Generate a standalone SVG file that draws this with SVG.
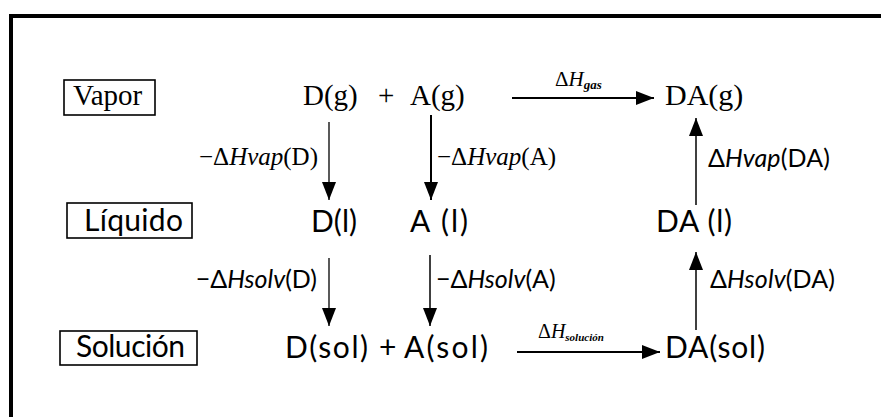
<svg xmlns="http://www.w3.org/2000/svg" width="881" height="417" viewBox="0 0 881 417">
<style>
.serif{font-family:"Liberation Serif","Times New Roman",serif;fill:#000}
.sans{font-family:Lato,"Liberation Sans",sans-serif;fill:#000}
.big{font-size:29px}
.mid{font-size:30px}
.lab{font-size:25px}
.it{font-style:italic}
.box{fill:none;stroke:#000;stroke-width:1.6}
.frame{stroke:#000;stroke-width:4;fill:none}
.arr{stroke:#000;fill:none}
</style>
<defs>
<marker id="ah" markerUnits="userSpaceOnUse" markerWidth="19" markerHeight="14" refX="18" refY="7" orient="auto">
<path d="M0,0 L18,7 L0,14 z" fill="#000"/>
</marker>
</defs>
<rect width="881" height="417" fill="#fff"/>
<g id="frame">
<line class="frame" x1="9" y1="16" x2="881" y2="16"/>
<line class="frame" x1="11" y1="14" x2="11" y2="417"/>
</g>
<g id="vapor">
<rect class="box" x="64" y="80" width="91" height="35"/>
<text class="serif big" x="73" y="105">Vapor</text>
</g>
<g id="liquido">
<rect class="box" x="67" y="203" width="125" height="35"/>
<text class="sans mid" x="84" y="231" textLength="99" lengthAdjust="spacing">Líquido</text>
</g>
<g id="solucion">
<rect class="box" x="60" y="331" width="137" height="34"/>
<text class="sans mid" x="76" y="357" textLength="109" lengthAdjust="spacing">Solución</text>
</g>
<g id="Dg"><text class="serif big" x="303" y="105">D(g)</text></g>
<g id="plus1"><text class="serif big" x="378" y="105">+</text></g>
<g id="Ag"><text class="serif big" x="410" y="105">A(g)</text></g>
<g id="DAg"><text class="serif" font-size="30" x="665" y="105">DA(g)</text></g>
<g id="Dl"><text class="sans mid" x="311" y="232" textLength="46" lengthAdjust="spacing">D(l)</text></g>
<g id="Al"><text class="sans mid" x="410" y="232" textLength="58" lengthAdjust="spacing">A (l)</text></g>
<g id="DAl"><text class="sans mid" x="656" y="232" textLength="76" lengthAdjust="spacing">DA (l)</text></g>
<g id="Dsol"><text class="sans mid" x="285" y="358" textLength="83" lengthAdjust="spacing">D(sol)</text></g>
<g id="plus2"><text class="sans mid" x="379" y="358">+</text></g>
<g id="Asol"><text class="sans mid" x="404" y="358" textLength="84" lengthAdjust="spacing">A(sol)</text></g>
<g id="DAsol"><text class="sans mid" x="665" y="358" textLength="100" lengthAdjust="spacing">DA(sol)</text></g>
<g id="connectors">
<line class="arr" x1="512" y1="98" x2="654" y2="98" stroke-width="2" marker-end="url(#ah)"/>
<line class="arr" x1="517" y1="352" x2="660" y2="352" stroke-width="2" marker-end="url(#ah)"/>
<line class="arr" x1="329" y1="122" x2="329" y2="200" stroke-width="1.3" marker-end="url(#ah)"/>
<line class="arr" x1="431" y1="115" x2="431" y2="200" stroke-width="2" marker-end="url(#ah)"/>
<line class="arr" x1="696" y1="205" x2="696" y2="118" stroke-width="1.5" marker-end="url(#ah)"/>
<line class="arr" x1="329" y1="258" x2="329" y2="326" stroke-width="1.3" marker-end="url(#ah)"/>
<line class="arr" x1="430" y1="255" x2="430" y2="326" stroke-width="1.5" marker-end="url(#ah)"/>
<line class="arr" x1="696" y1="330" x2="696" y2="252" stroke-width="1.5" marker-end="url(#ah)"/>
<text class="serif" font-size="21" x="555" y="86">Δ<tspan class="it">H</tspan><tspan class="it" font-size="13" font-weight="bold" dy="3">gas</tspan></text>
<text class="serif" font-size="20" x="538" y="338">Δ<tspan class="it">H</tspan><tspan class="it" font-size="11" font-weight="bold" dy="3">solución</tspan></text>
<text class="serif lab" x="318" y="165" text-anchor="end">−Δ<tspan class="it">Hvap</tspan>(D)</text>
<text class="serif lab" x="437" y="165">−Δ<tspan class="it">Hvap</tspan>(A)</text>
<text class="sans lab" x="708" y="167" textLength="122" lengthAdjust="spacing">Δ<tspan class="it">Hvap</tspan>(DA)</text>
<text class="sans lab" x="317" y="288" text-anchor="end">−Δ<tspan class="it">Hsolv</tspan>(D)</text>
<text class="sans lab" x="436" y="288">−Δ<tspan class="it">Hsolv</tspan>(A)</text>
<text class="sans lab" x="710" y="288" textLength="125" lengthAdjust="spacing">Δ<tspan class="it">Hsolv</tspan>(DA)</text>
</g>
</svg>
